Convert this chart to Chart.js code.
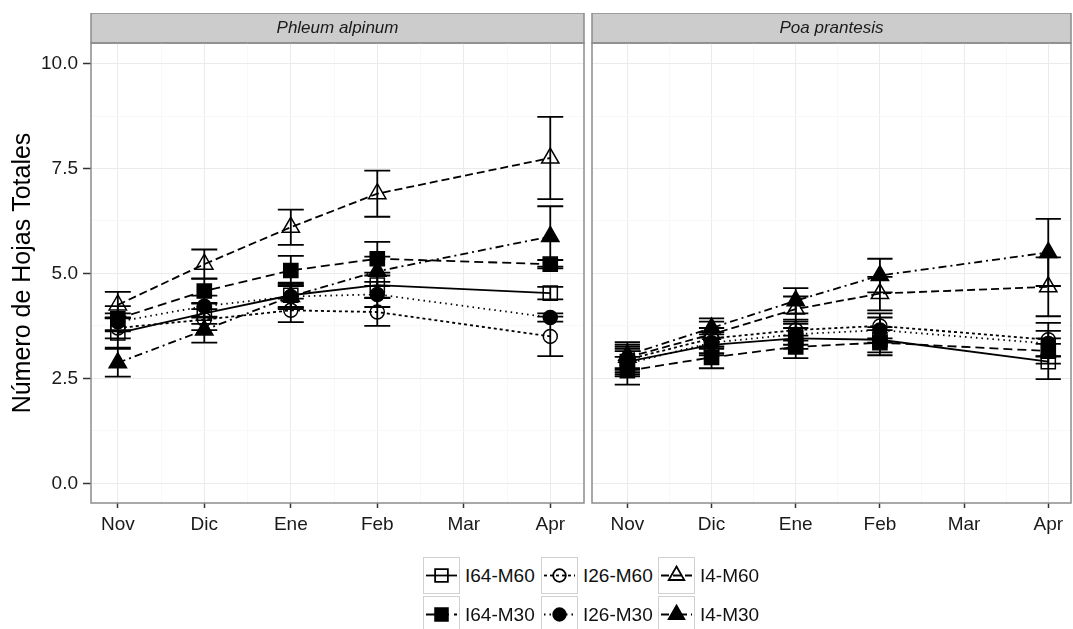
<!DOCTYPE html>
<html>
<head>
<meta charset="utf-8">
<script src="https://cdn.jsdelivr.net/npm/chart.js@4.4.0/dist/chart.umd.min.js"></script>
<style>
  body { margin: 0; background: #fff; font-family: "Liberation Sans", Arial, sans-serif; }
  #wrap { position: relative; width: 1073px; height: 629px; overflow: hidden; }
  .panel { position: absolute; top: 13px; height: 530px; }
  #legend { position: absolute; left: 423px; top: 558px; display: grid;
            grid-template-columns: 118px 117px 120px; row-gap: 4px; }
  .item { display: flex; align-items: center; height: 35px; }
  .item canvas { border: 1px solid #d0d0d0; box-sizing: border-box; }
  .item span { margin-left: 5px; font-size: 19px; color: #111; white-space: nowrap; }
</style>
</head>
<body>
<div id="wrap">
  <div class="panel" style="left:0;width:588px"><canvas id="phleum"></canvas></div>
  <div class="panel" style="left:588px;width:485px"><canvas id="poa"></canvas></div>
  <div id="legend"></div>
</div>
<script>
// months on the x axis; Mar has no sampling
const months = ['Nov', 'Dic', 'Ene', 'Feb', 'Mar', 'Apr'];
const sampled = [0, 1, 2, 3, 5];
const yTicks = [0, 2.5, 5, 7.5, 10];
const treatments = ['I64-M60', 'I26-M60', 'I4-M60', 'I64-M30', 'I26-M30', 'I4-M30'];

// Phleum alpinum: means and error half-widths
const phleumI64M60 = [3.58, 4.05, 4.48, 4.72, 4.53];
const phleumI26M60 = [3.70, 3.90, 4.12, 4.08, 3.50];
const phleumI4M60  = [4.25, 5.22, 6.10, 6.90, 7.75];
const phleumI64M30 = [3.92, 4.58, 5.07, 5.35, 5.22];
const phleumI26M30 = [3.85, 4.22, 4.45, 4.50, 3.95];
const phleumI4M30  = [2.87, 3.65, 4.45, 5.05, 5.88];
const phleumErrI64M60 = [0.35, 0.25, 0.30, 0.30, 0.15];
const phleumErrI26M60 = [0.25, 0.25, 0.28, 0.33, 0.47];
const phleumErrI4M60  = [0.31, 0.35, 0.42, 0.55, 0.98];
const phleumErrI64M30 = [0.30, 0.30, 0.35, 0.40, 0.10];
const phleumErrI26M30 = [0.20, 0.25, 0.25, 0.30, 0.10];
const phleumErrI4M30  = [0.33, 0.30, 0.30, 0.35, 0.72];

// Poa prantesis
const poaI64M60 = [2.90, 3.30, 3.45, 3.42, 2.90];
const poaI26M60 = [2.95, 3.45, 3.65, 3.75, 3.42];
const poaI4M60  = [3.00, 3.55, 4.15, 4.52, 4.68];
const poaI64M30 = [2.68, 3.00, 3.25, 3.35, 3.15];
const poaI26M30 = [2.85, 3.35, 3.55, 3.65, 3.33];
const poaI4M30  = [3.05, 3.70, 4.35, 4.95, 5.50];
const poaErrI64M60 = [0.30, 0.25, 0.25, 0.30, 0.42];
const poaErrI26M60 = [0.30, 0.25, 0.25, 0.30, 0.40];
const poaErrI4M60  = [0.30, 0.30, 0.30, 0.40, 0.70];
const poaErrI64M30 = [0.33, 0.26, 0.27, 0.30, 0.30];
const poaErrI26M30 = [0.30, 0.25, 0.25, 0.30, 0.30];
const poaErrI4M30  = [0.31, 0.23, 0.30, 0.40, 0.80];

const styles = {
  'I64-M60': { shape: 'rect', fill: false, r: 10, dash: [] },
  'I26-M60': { shape: 'circle', fill: false, r: 7, dash: [3, 3] },
  'I4-M60':  { shape: 'triangle', fill: false, r: 10, dash: [8, 4] },
  'I64-M30': { shape: 'rect', fill: true, r: 10, dash: [9, 5] },
  'I26-M30': { shape: 'circle', fill: true, r: 7, dash: [1.5, 4] },
  'I4-M30':  { shape: 'triangle', fill: true, r: 10, dash: [8, 4, 2, 4] }
};

const FONT = '"Liberation Sans", Arial, sans-serif';
const capHalf = 0.15;

const errorBars = {
  id: 'errorBars',
  beforeDatasetsDraw(chart) {
    const { ctx, scales: { x, y } } = chart;
    ctx.save();
    ctx.strokeStyle = '#000';
    ctx.lineWidth = 1.8;
    chart.data.datasets.forEach(ds => {
      ds.data.forEach(p => {
        const px = x.getPixelForValue(p.x);
        const x0 = x.getPixelForValue(p.x - capHalf);
        const x1 = x.getPixelForValue(p.x + capHalf);
        const yt = y.getPixelForValue(p.y + p.err);
        const yb = y.getPixelForValue(p.y - p.err);
        ctx.beginPath();
        ctx.moveTo(px, yt); ctx.lineTo(px, yb);
        ctx.moveTo(x0, yt); ctx.lineTo(x1, yt);
        ctx.moveTo(x0, yb); ctx.lineTo(x1, yb);
        ctx.stroke();
      });
    });
    ctx.restore();
  }
};

const panelFrame = {
  id: 'panelFrame',
  beforeDraw(chart) {
    const { ctx, chartArea: a } = chart;
    ctx.save();
    ctx.fillStyle = '#cccccc';
    ctx.fillRect(a.left, a.top - 30, a.right - a.left, 30);
    ctx.strokeStyle = '#8c8c8c';
    ctx.lineWidth = 1.5;
    ctx.strokeRect(a.left, a.top - 30, a.right - a.left, 30);
    ctx.restore();
  },
  afterDraw(chart) {
    const { ctx, chartArea: a } = chart;
    ctx.save();
    ctx.strokeStyle = '#8c8c8c';
    ctx.lineWidth = 1.5;
    ctx.strokeRect(a.left, a.top, a.right - a.left, a.bottom - a.top);
    ctx.restore();
  }
};

function makeDatasets(means, errs) {
  return treatments.map((t, i) => {
    const s = styles[t];
    return {
      label: t,
      data: sampled.map((m, j) => ({ x: m, y: means[i][j], err: errs[i][j] })),
      borderColor: '#000',
      borderWidth: 1.8,
      borderDash: s.dash,
      pointStyle: s.shape,
      pointRadius: s.r,
      pointHoverRadius: s.r,
      pointBorderColor: '#000',
      pointBorderWidth: 1.5,
      pointBackgroundColor: s.fill ? '#000' : 'rgba(0,0,0,0)',
      tension: 0,
      fill: false
    };
  });
}

function makeChart(id, title, means, errs, xMin, xMax, showY) {
  const isMajorY = v => yTicks.includes(v);
  new Chart(document.getElementById(id), {
    type: 'line',
    data: { datasets: makeDatasets(means, errs) },
    options: {
      responsive: true,
      maintainAspectRatio: false,
      animation: false,
      layout: { autoPadding: false, padding: { left: 0, right: showY ? 4 : 2, top: 0, bottom: 0 } },
      plugins: {
        legend: { display: false },
        tooltip: { enabled: false },
        title: {
          display: true, text: title, fullSize: false,
          color: '#1a1a1a', padding: { top: 5, bottom: 4.6 },
          font: { family: FONT, size: 17, style: 'italic', weight: 'normal', lineHeight: 1.2 }
        }
      },
      scales: {
        x: {
          type: 'linear', min: xMin, max: xMax,
          afterBuildTicks: s => {
            s.ticks = [0, 0.5, 1, 1.5, 2, 2.5, 3, 3.5, 4, 4.5, 5].map(v => ({ value: v }));
          },
          afterFit: s => { s.height = 40; s.paddingLeft = 0; s.paddingRight = 0; },
          border: { display: false },
          grid: {
            color: c => Number.isInteger(c.tick.value) ? '#ebebeb' : '#f8f8f8',
            lineWidth: 1,
            tickLength: 5,
            tickColor: c => Number.isInteger(c.tick.value) ? '#333' : 'rgba(0,0,0,0)',
            tickWidth: 1.5
          },
          ticks: {
            autoSkip: false, maxRotation: 0, padding: 5, color: '#1a1a1a',
            font: { family: FONT, size: 19 },
            callback: v => Number.isInteger(v) ? months[v] : ''
          }
        },
        y: {
          type: 'linear', min: -0.47, max: 10.49,
          afterBuildTicks: s => {
            s.ticks = [0, 1.25, 2.5, 3.75, 5, 6.25, 7.5, 8.75, 10].map(v => ({ value: v }));
          },
          afterFit: s => { s.width = showY ? 91 : 4; s.paddingTop = 0; s.paddingBottom = 0; },
          border: { display: false },
          grid: {
            color: c => isMajorY(c.tick.value) ? '#ebebeb' : '#f8f8f8',
            lineWidth: 1,
            drawTicks: showY,
            tickLength: 8,
            tickColor: c => isMajorY(c.tick.value) ? '#333' : 'rgba(0,0,0,0)',
            tickWidth: 1.5
          },
          ticks: {
            display: showY, autoSkip: false, padding: 5, color: '#1a1a1a',
            font: { family: FONT, size: 19 },
            callback: v => isMajorY(v) ? v.toFixed(1) : ''
          },
          title: {
            display: showY, text: 'Número de Hojas Totales', color: '#000',
            padding: { top: 8, bottom: 0 },
            font: { family: FONT, size: 25 }
          }
        }
      }
    },
    plugins: [panelFrame, errorBars]
  });
}

makeChart('phleum', 'Phleum alpinum',
  [phleumI64M60, phleumI26M60, phleumI4M60, phleumI64M30, phleumI26M30, phleumI4M30],
  [phleumErrI64M60, phleumErrI26M60, phleumErrI4M60, phleumErrI64M30, phleumErrI26M30, phleumErrI4M30],
  -0.31, 5.39, true);
makeChart('poa', 'Poa prantesis',
  [poaI64M60, poaI26M60, poaI4M60, poaI64M30, poaI26M30, poaI4M30],
  [poaErrI64M60, poaErrI26M60, poaErrI4M60, poaErrI64M30, poaErrI26M30, poaErrI4M30],
  -0.42, 5.27, false);

// legend keys: short line segment plus marker
const legend = document.getElementById('legend');
treatments.forEach(t => {
  const s = styles[t];
  const item = document.createElement('div');
  item.className = 'item';
  const c = document.createElement('canvas');
  c.width = 35; c.height = 35;
  const span = document.createElement('span');
  span.textContent = t;
  item.appendChild(c); item.appendChild(span);
  legend.appendChild(item);
  const ctx = c.getContext('2d');
  ctx.strokeStyle = '#000';
  ctx.lineWidth = 1.8;
  ctx.setLineDash(s.dash);
  ctx.beginPath(); ctx.moveTo(2, 17.5); ctx.lineTo(33, 17.5); ctx.stroke();
  ctx.setLineDash([]);
  ctx.fillStyle = s.fill ? '#000' : 'rgba(0,0,0,0)';
  Chart.helpers.drawPoint(ctx, { pointStyle: s.shape, radius: s.r * 0.9, borderWidth: 1.5 }, 17.5, 17.5);
});
</script>
</body>
</html>
